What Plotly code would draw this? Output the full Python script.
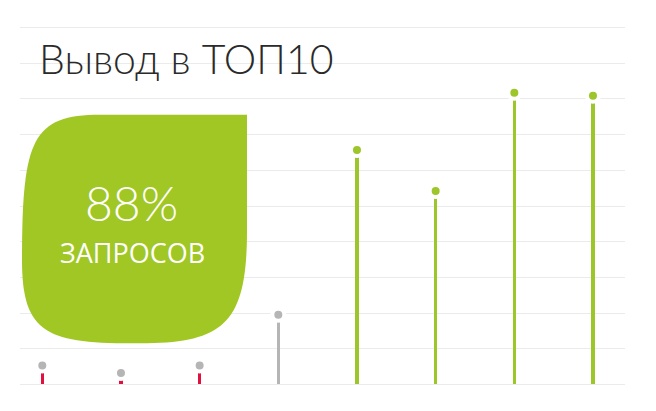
import plotly.graph_objects as go

# ---- data ----
categories = [1, 2, 3, 4, 5, 6, 7, 8]
values = [5.3, 3.2, 5.3, 19.5, 65.7, 54.2, 81.7, 80.9]
stem_colors = ["#e2103f", "#e2103f", "#e2103f", "#b5b5b5",
               "#9dc62b", "#9dc62b", "#9dc62b", "#9dc62b"]
dot_colors = ["#b5b5b5", "#b5b5b5", "#b5b5b5", "#b5b5b5",
              "#9dc62b", "#9dc62b", "#9dc62b", "#9dc62b"]
title_text = "Вывод в ТОП10"
badge_value = "88%"
badge_label = "ЗАПРОСОВ"

W, H = 656, 411
ML, MR = 20, 31
PLOT_TOP = 24.44
PLOT_BOT = 387.56
MT = PLOT_TOP
MB = H - PLOT_BOT
PW = W - ML - MR
PH = PLOT_BOT - PLOT_TOP


def px(x):
    return (x - ML) / PW


def py(y):
    return (PLOT_BOT - y) / PH


fig = go.Figure()

fig.add_trace(go.Bar(
    x=categories, y=values, width=0.04,
    marker=dict(color=stem_colors, line=dict(width=0)),
    hoverinfo="skip",
))
fig.add_trace(go.Scatter(
    x=categories, y=values, mode="markers",
    marker=dict(size=12, color=dot_colors, line=dict(color="white", width=4)),
    hoverinfo="skip",
))

# leaf-shaped badge (pixel geometry converted to paper coords)
pts = [
    ("M", [(247, 115)]),
    ("L", [(247, 230)]),
    ("C", [(247, 322), (225, 343), (140, 343)]),
    ("C", [(48, 343), (22, 335), (22, 260)]),
    ("C", [(22, 140), (32, 115), (100, 115)]),
    ("L", [(247, 115)]),
]
path = ""
for cmd, ps in pts:
    path += cmd + " " + " ".join(f"{px(a):.5f},{py(b):.5f}" for a, b in ps) + " "
path += "Z"
fig.add_shape(type="path", path=path, xref="paper", yref="paper",
              fillcolor="#a0c724", line=dict(width=0), layer="above")

fig.add_annotation(text=badge_value, x=px(131), y=py(203), xref="paper", yref="paper",
                   showarrow=False, xanchor="center", yanchor="middle",
                   font=dict(family="Lato", size=48, color="white", weight=300))
fig.add_annotation(text=badge_label, x=px(132), y=py(252), xref="paper", yref="paper",
                   showarrow=False, xanchor="center", yanchor="middle",
                   font=dict(family="Open Sans", size=27, color="white"))
fig.add_annotation(text=title_text, x=px(37), y=py(59), xref="paper", yref="paper",
                   showarrow=False, xanchor="left", yanchor="middle",
                   font=dict(family="Lato", size=41, color="#2a2a2a", weight=300))

fig.update_layout(
    width=W, height=H,
    margin=dict(l=ML, r=MR, t=MT, b=MB, pad=0),
    paper_bgcolor="white", plot_bgcolor="white",
    showlegend=False, bargap=0,
    xaxis=dict(range=[1 - 22.3 / 78.67, 1 + (625 - 42.3) / 78.67],
               showgrid=False, zeroline=False, showticklabels=False, ticks=""),
    yaxis=dict(range=[-1, 101], tick0=0, dtick=10, showgrid=True,
               gridcolor="#ebebeb", gridwidth=1, zeroline=False,
               showticklabels=False, ticks=""),
)

fig.write_html("out.html", config={"displayModeBar": False},
               post_script="document.body.style.margin='0';document.body.style.padding='0';")
